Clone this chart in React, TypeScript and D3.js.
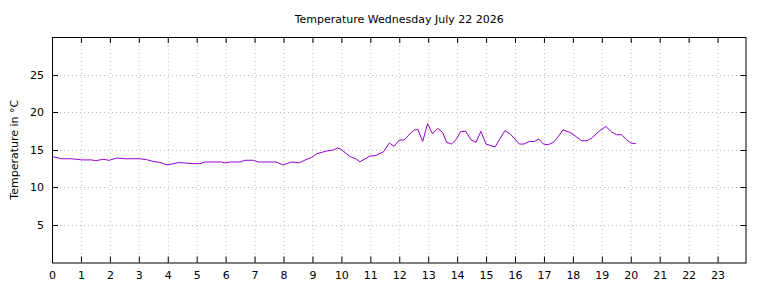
import React from "react";
import * as d3 from "d3";

const TITLE = "Temperature Wednesday July 22 2026";
const Y_LABEL = "Temperature in °C";
const X_TICKS = d3.range(0, 24);
const Y_TICKS = [5, 10, 15, 20, 25];

const HOURS = [
  0.0, 0.33, 0.68, 1.03, 1.37, 1.5, 1.77, 1.98, 2.24, 2.52, 3.04, 3.27, 3.5, 3.73, 3.96,
  4.14, 4.37, 4.6, 4.83, 5.11, 5.29, 5.86, 5.98, 6.15, 6.5, 6.67, 6.96, 7.13, 7.76, 7.98,
  8.28, 8.55, 8.7, 8.85, 8.97, 9.15, 9.49, 9.72, 9.86, 9.97, 10.32, 10.5, 10.64, 10.99,
  11.16, 11.45, 11.66, 11.82, 12.0, 12.16, 12.49, 12.64, 12.81, 12.98, 13.15, 13.33, 13.5,
  13.64, 13.81, 13.96, 14.13, 14.3, 14.48, 14.65, 14.82, 15.0, 15.31, 15.65, 15.83, 16.15,
  16.31, 16.49, 16.67, 16.82, 16.98, 17.15, 17.32, 17.46, 17.66, 17.93, 18.3, 18.49, 18.65,
  18.94, 19.14, 19.34, 19.51, 19.68, 19.86, 20.0, 20.18,
];
const TEMPS = [
  14.1, 13.8, 13.8, 13.65, 13.65, 13.55, 13.72, 13.6, 13.9, 13.8, 13.8, 13.68, 13.45, 13.32, 13.0,
  13.1, 13.3, 13.24, 13.15, 13.15, 13.37, 13.37, 13.24, 13.37, 13.37, 13.6, 13.6, 13.37, 13.37, 12.97,
  13.37, 13.26, 13.55, 13.8, 13.98, 14.47, 14.83, 14.96, 15.23, 15.1, 14.04, 13.8, 13.4, 14.17,
  14.2, 14.7, 15.9, 15.44, 16.3, 16.3, 17.57, 17.72, 16.1, 18.46, 17.13, 17.84, 17.3,
  15.98, 15.76, 16.33, 17.44, 17.44, 16.33, 15.98, 17.44, 15.76, 15.37, 17.53, 17.13, 15.76,
  15.76, 16.1, 16.1, 16.43, 15.76, 15.67, 15.98, 16.56, 17.66, 17.25, 16.2, 16.2, 16.56,
  17.57, 18.1, 17.36, 17.0, 17.0, 16.33, 15.9, 15.8,
];

export default function App() {
  const W = 768, H = 288;
  const left = 52, right = 746.5, top = 37, bottom = 262.5;
  const x = d3.scaleLinear().domain([0, 24]).range([left, right]);
  const y = d3.scaleLinear().domain([0, 30]).range([bottom, top]);
  const data = HOURS.map((h, i) => [h, TEMPS[i]] as [number, number]);
  const line = d3.line<[number, number]>().x(d => x(d[0])).y(d => y(d[1]));
  const font = "'DejaVu Sans', sans-serif";
  const tick = 6;
  return (
    <svg width={W} height={H} style={{ position: "absolute", left: 0, top: 0 }} fontFamily={font}>
      <rect x={0} y={0} width={W} height={H} fill="#fff" />
      {X_TICKS.filter(t => t > 0).map(t => (
        <line key={"gx" + t} x1={x(t) + 0.5} x2={x(t) + 0.5} y1={top} y2={bottom} stroke="#bbb" strokeWidth={1} strokeDasharray="1,3" />
      ))}
      {Y_TICKS.map(t => (
        <line key={"gy" + t} x1={left} x2={right} y1={Math.round(y(t)) + 0.5} y2={Math.round(y(t)) + 0.5} stroke="#bbb" strokeWidth={1} strokeDasharray="1,3" />
      ))}
      {X_TICKS.map(t => (
        <g key={"tx" + t}>
          <line x1={x(t) + 0.5} x2={x(t) + 0.5} y1={bottom} y2={bottom - tick} stroke="#000" />
          <line x1={x(t) + 0.5} x2={x(t) + 0.5} y1={top} y2={top + tick} stroke="#000" />
          <text x={x(t) + 0.5} y={279} textAnchor="middle" fontSize={11} fill="#000">{t}</text>
        </g>
      ))}
      {Y_TICKS.map(t => (
        <g key={"ty" + t}>
          <line x1={left} x2={left + tick} y1={Math.round(y(t)) + 0.5} y2={Math.round(y(t)) + 0.5} stroke="#000" />
          <line x1={right} x2={right - tick} y1={Math.round(y(t)) + 0.5} y2={Math.round(y(t)) + 0.5} stroke="#000" />
          <text x={44} y={y(t) + 4} textAnchor="end" fontSize={11} fill="#000">{t}</text>
        </g>
      ))}
      <path d={line(data) || ""} fill="none" stroke="#9400d3" strokeWidth={1} />
      <rect x={left + 0.5} y={top + 0.5} width={right - left - 1} height={bottom - top} fill="none" stroke="#000" strokeWidth={1} />
      <text x={(left + right) / 2} y={23} textAnchor="middle" fontSize={11} fill="#000">{TITLE}</text>
      <text transform={`translate(18,${(top + bottom) / 2}) rotate(-90)`} textAnchor="middle" fontSize={11} fill="#000">{Y_LABEL}</text>
    </svg>
  );
}
